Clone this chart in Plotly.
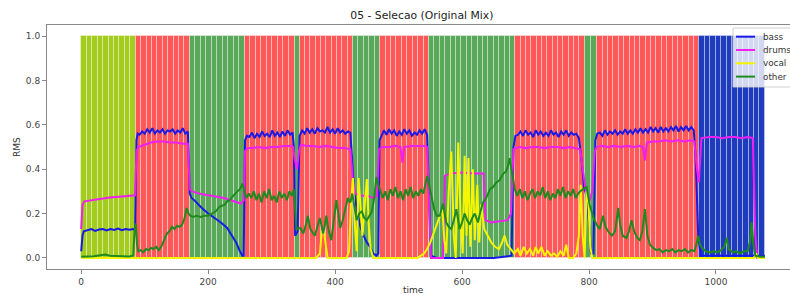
import numpy as np
import plotly.graph_objects as go

# ---------------- data ----------------
title_text = "05 - Selecao (Original Mix)"

# song sections (time units) and their kind
sec_start = [0, 86, 171, 258, 336, 344, 428, 471, 548, 684, 793, 813, 974]
sec_end = [86, 171, 258, 336, 344, 428, 471, 548, 684, 793, 813, 974, 1077]
sec_kind = ["intro", "drop", "break", "drop", "break", "drop", "break",
            "drop", "break", "drop", "break", "drop", "outro"]
beat_len = 8.6

bass_t = [0, 2, 4, 10, 16, 22, 28, 34, 40, 46, 52, 58, 64, 70, 76, 82, 85,
          87, 89, 92, 96, 100, 104, 108, 112, 116, 120, 124, 128, 132, 136, 140, 144, 148, 152, 156, 160, 164, 168,
          171, 174, 180, 190, 200, 210, 220, 230, 238, 244, 250, 254, 256,
          258, 261, 265, 269, 273, 277, 281, 285, 289, 293, 297, 301, 305, 309, 313, 317, 321, 325, 329, 333,
          335, 337, 341, 344,
          348, 352, 356, 360, 364, 368, 372, 376, 380, 384, 388, 392, 396, 400, 404, 408, 412, 416, 420, 424,
          427, 430, 435, 440, 445, 450, 455, 460, 465, 468,
          470, 473, 477, 481, 485, 489, 493, 497, 501, 505, 509, 513, 517, 521, 525, 529, 533, 537, 541, 545,
          548, 551, 560, 600, 650, 678,
          681, 684, 688, 692, 696, 700, 704, 708, 712, 716, 720, 724, 728, 732, 736, 740, 744, 748, 752, 756,
          760, 764, 768, 772, 776, 780, 784,
          788, 792, 796, 800, 803, 807,
          810, 813, 817, 821, 825, 829, 833, 837, 841, 845, 849, 853, 857, 861, 865, 869, 873, 877, 881, 885,
          889, 893, 897, 901, 905, 909, 913, 917, 921, 925, 929, 933, 937, 941, 945, 949, 953, 957, 961, 965,
          968, 972, 976, 1000, 1040, 1077]
bass_v = [0.03, 0.10, 0.12, 0.125, 0.13, 0.122, 0.128, 0.13, 0.124, 0.13, 0.126, 0.132, 0.125, 0.13, 0.127, 0.13, 0.125,
          0.53, 0.56, 0.555, 0.57, 0.56, 0.58, 0.565, 0.585, 0.56, 0.575, 0.565, 0.58, 0.56, 0.575, 0.57, 0.58, 0.56, 0.575, 0.565, 0.585, 0.56, 0.57,
          0.29, 0.27, 0.255, 0.225, 0.20, 0.18, 0.16, 0.135, 0.10, 0.07, 0.03, 0.01, 0.01,
          0.53, 0.55, 0.545, 0.565, 0.54, 0.56, 0.545, 0.57, 0.55, 0.56, 0.545, 0.575, 0.55, 0.565, 0.545, 0.57, 0.55, 0.575, 0.555, 0.565,
          0.50, 0.10, 0.12, 0.55,
          0.575, 0.56, 0.585, 0.565, 0.58, 0.56, 0.585, 0.57, 0.575, 0.565, 0.59, 0.565, 0.58, 0.56, 0.585, 0.565, 0.575, 0.56, 0.57, 0.565,
          0.45, 0.30, 0.20, 0.14, 0.10, 0.07, 0.05, 0.02, 0.01, 0.02,
          0.53, 0.55, 0.575, 0.555, 0.58, 0.56, 0.575, 0.55, 0.57, 0.555, 0.58, 0.56, 0.575, 0.55, 0.565, 0.555, 0.575, 0.56, 0.58, 0.555,
          0.30, 0.01, 0.0, 0.0, 0.0, 0.01,
          0.50, 0.55, 0.555, 0.57, 0.55, 0.575, 0.555, 0.565, 0.545, 0.575, 0.555, 0.57, 0.55, 0.565, 0.55, 0.575, 0.555, 0.565, 0.545, 0.57,
          0.555, 0.575, 0.55, 0.565, 0.555, 0.56, 0.54,
          0.45, 0.32, 0.28, 0.16, 0.02, 0.02,
          0.53, 0.56, 0.565, 0.55, 0.575, 0.555, 0.57, 0.56, 0.575, 0.555, 0.57, 0.56, 0.58, 0.56, 0.575, 0.56, 0.58, 0.565, 0.585, 0.565,
          0.58, 0.565, 0.59, 0.57, 0.585, 0.565, 0.59, 0.57, 0.585, 0.57, 0.59, 0.575, 0.595, 0.57, 0.59, 0.575, 0.595, 0.575, 0.59, 0.575,
          0.45, 0.10, 0.01, 0.01, 0.01, 0.01]

drums_t = [0, 2, 5, 15, 25, 35, 45, 55, 65, 75, 85,
           87, 90, 100, 110, 120, 130, 140, 150, 160, 168,
           171, 175, 185, 195, 205, 215, 225, 235, 245, 252, 256,
           258, 262, 270, 280, 290, 300, 310, 320, 330, 334,
           336, 340, 343,
           346, 355, 365, 375, 385, 395, 405, 415, 424,
           428, 432, 440, 450, 460, 466,
           469, 475, 485, 495, 503, 506, 509, 520, 530, 540, 545,
           548, 551, 560, 570, 573, 580, 600, 620, 634, 637, 645, 660, 672, 677,
           681, 690, 700, 710, 720, 730, 740, 750, 760, 770, 780, 786,
           790, 795, 800, 805, 809,
           812, 820, 830, 840, 850, 860, 870, 880, 885, 888, 891, 900, 910, 920, 930, 940, 950, 960, 966,
           970, 973, 977, 990, 1000, 1010, 1020, 1030, 1040, 1050, 1058,
           1062, 1065, 1077]
drums_v = [0.13, 0.24, 0.255, 0.26, 0.265, 0.27, 0.272, 0.275, 0.278, 0.28, 0.282,
           0.48, 0.50, 0.51, 0.52, 0.525, 0.525, 0.52, 0.52, 0.515, 0.515,
           0.31, 0.30, 0.29, 0.285, 0.28, 0.275, 0.27, 0.26, 0.25, 0.245, 0.26,
           0.48, 0.495, 0.495, 0.50, 0.495, 0.50, 0.50, 0.505, 0.505, 0.50,
           0.45, 0.40, 0.48,
           0.51, 0.505, 0.505, 0.50, 0.505, 0.50, 0.495, 0.495, 0.49,
           0.35, 0.29, 0.28, 0.28, 0.27, 0.28,
           0.49, 0.50, 0.50, 0.505, 0.50, 0.43, 0.50, 0.505, 0.505, 0.505, 0.50,
           0.25, 0.0, 0.0, 0.0, 0.37, 0.38, 0.385, 0.38, 0.38, 0.17, 0.16, 0.165, 0.17, 0.20,
           0.49, 0.50, 0.495, 0.50, 0.50, 0.495, 0.50, 0.50, 0.495, 0.50, 0.495, 0.49,
           0.40, 0.30, 0.25, 0.30, 0.48,
           0.50, 0.505, 0.50, 0.505, 0.50, 0.505, 0.50, 0.505, 0.50, 0.44, 0.52, 0.525, 0.525, 0.53, 0.525, 0.53, 0.525, 0.53, 0.525,
           0.40, 0.34, 0.54, 0.545, 0.545, 0.54, 0.545, 0.545, 0.54, 0.545, 0.54,
           0.10, 0.0, 0.0]

vocal_t = [0, 370, 376, 379, 382, 385, 388, 418, 422, 425, 428, 431, 434, 437, 440, 443, 446, 450, 453, 456, 460,
           530, 535, 540, 545, 550, 555, 560, 565, 569, 572, 575, 579, 583, 587, 590, 594, 598, 601, 604, 607,
           610, 613, 617, 620, 624, 627, 630, 635, 640, 646, 652, 658, 663, 667, 671, 676, 682, 688, 692, 697,
           702, 707, 712, 716, 720, 725, 730, 735, 740, 745, 750, 755, 760, 764, 768, 775, 780, 784, 787, 790,
           793, 796, 799, 802, 805, 1060, 1063, 1066, 1077]
vocal_v = [0.0, 0.0, 0.02, 0.12, 0.13, 0.05, 0.0, 0.0, 0.03, 0.25, 0.36, 0.15, 0.03, 0.36, 0.25, 0.10, 0.22, 0.355, 0.15, 0.04, 0.0,
           0.0, 0.01, 0.02, 0.04, 0.07, 0.11, 0.15, 0.19, 0.22, 0.08, 0.02, 0.30, 0.48, 0.10, 0.0, 0.52, 0.15, 0.02, 0.46, 0.10,
           0.45, 0.05, 0.40, 0.08, 0.33, 0.07, 0.24, 0.13, 0.10, 0.07, 0.05, 0.04, 0.07, 0.10, 0.06, 0.04, 0.02, 0.04, 0.01, 0.05,
           0.02, 0.04, 0.01, 0.05, 0.02, 0.05, 0.01, 0.03, 0.01, 0.02, 0.005, 0.03, 0.01, 0.06, 0.0, 0.0, 0.02, 0.10, 0.33, 0.10,
           0.0, 0.30, 0.25, 0.05, 0.0, 0.0, 0.02, 0.0, 0.0]

other_t = [0, 10, 20, 30, 38, 45, 55, 65, 75, 82, 84, 86, 88, 90, 94, 98, 102, 106, 110, 114, 118, 122, 126, 129,
           132, 135, 139, 143, 147, 151, 155, 159, 163, 166, 169, 172, 176, 182, 188, 194, 200, 206, 212, 218,
           222, 226, 230, 234, 238, 242, 246, 250, 254, 257, 260,
           264, 268, 272, 276, 280, 284, 288, 292, 296, 300, 304, 308, 312, 316, 320, 324, 328, 332, 335,
           339, 345, 350, 354, 357, 361, 365, 368, 372, 376, 379, 381, 384, 386, 390, 394, 398, 402, 405, 408,
           412, 415, 420, 424, 427, 431, 434, 438, 442, 446, 450, 454, 458, 462, 465, 468, 471,
           475, 479, 483, 487, 491, 495, 499, 503, 507, 511, 515, 519, 523, 527, 531, 535, 539, 542, 545, 548,
           552, 556, 560, 565, 570, 575, 579, 583, 587, 591, 596, 600, 604, 608, 612, 616, 620, 625, 629, 633,
           638, 644, 649, 654, 659, 665, 669, 672, 675, 679, 683,
           687, 691, 695, 699, 703, 707, 711, 715, 719, 723, 727, 731, 735, 739, 743, 747, 751, 755, 759, 763,
           767, 771, 775, 779, 783, 786, 791, 796, 801, 807, 812, 817, 822, 826, 830, 836, 841, 846, 849, 853,
           859, 863, 867, 871, 876, 880, 884, 888, 892, 896, 901, 906, 911, 916, 921, 926, 931, 936, 941, 946,
           951, 956, 961, 966, 969, 972, 975, 978, 984, 990, 996, 1002, 1008, 1013, 1017, 1020, 1026, 1032, 1038,
           1044, 1050, 1054, 1056, 1059, 1062, 1070, 1077]
other_v = [0.005, 0.006, 0.008, 0.012, 0.015, 0.01, 0.008, 0.007, 0.006, 0.01, 0.12, 0.155, 0.06, 0.03, 0.035, 0.025, 0.04, 0.035, 0.045, 0.04, 0.05, 0.035, 0.05, 0.07,
           0.09, 0.11, 0.12, 0.14, 0.13, 0.145, 0.14, 0.15, 0.18, 0.225, 0.20, 0.19, 0.185, 0.19, 0.185, 0.19, 0.19, 0.20, 0.21, 0.23,
           0.235, 0.24, 0.255, 0.26, 0.275, 0.29, 0.30, 0.31, 0.335, 0.30, 0.27,
           0.29, 0.27, 0.30, 0.26, 0.29, 0.25, 0.30, 0.27, 0.31, 0.26, 0.28, 0.25, 0.30, 0.27, 0.29, 0.26, 0.30, 0.28, 0.31,
           0.13, 0.135, 0.11, 0.15, 0.19, 0.13, 0.11, 0.10, 0.14, 0.18, 0.14, 0.11, 0.15, 0.19, 0.12, 0.08, 0.17, 0.26, 0.20, 0.135,
           0.17, 0.21, 0.27, 0.25, 0.29, 0.22, 0.17, 0.20, 0.21, 0.18, 0.17, 0.19, 0.21, 0.28, 0.365, 0.33, 0.30,
           0.27, 0.30, 0.26, 0.31, 0.28, 0.32, 0.27, 0.30, 0.26, 0.31, 0.28, 0.32, 0.27, 0.30, 0.28, 0.31, 0.29, 0.33, 0.37, 0.33,
           0.27, 0.22, 0.19, 0.19, 0.245, 0.16, 0.14, 0.13, 0.17, 0.22, 0.13, 0.16, 0.20, 0.17, 0.15, 0.18, 0.20, 0.16, 0.21, 0.25,
           0.27, 0.31, 0.32, 0.34, 0.35, 0.38, 0.39, 0.41, 0.45, 0.38, 0.31,
           0.28, 0.31, 0.27, 0.30, 0.26, 0.29, 0.31, 0.27, 0.30, 0.28, 0.32, 0.27, 0.30, 0.26, 0.29, 0.27, 0.31, 0.28, 0.32, 0.27,
           0.30, 0.28, 0.31, 0.27, 0.29, 0.30, 0.31, 0.32, 0.24, 0.18, 0.15, 0.13, 0.19, 0.14, 0.12, 0.10, 0.12, 0.225, 0.15, 0.10,
           0.09, 0.12, 0.17, 0.12, 0.09, 0.08, 0.12, 0.22, 0.10, 0.06, 0.045, 0.035, 0.04, 0.025, 0.035, 0.03, 0.04, 0.025, 0.035, 0.03,
           0.04, 0.025, 0.035, 0.03, 0.06, 0.10, 0.06, 0.045, 0.03, 0.025, 0.03, 0.025, 0.035, 0.05, 0.09, 0.04, 0.025, 0.03, 0.02,
           0.03, 0.03, 0.08, 0.16, 0.06, 0.01, 0.005, 0.005]

series_names = ["bass", "drums", "vocal", "other"]

# ---------------- styles ----------------
kind_color = {"intro": "#a3cc1f", "drop": "#ff5858", "break": "#5aa85a", "outro": "#1f3cbf"}
line_color = {"bass": "#1a1ae6", "drums": "#f01ef0", "vocal": "#f5f500", "other": "#1f8a1f"}
FONT = "DejaVu Sans"
W, H = 790, 295
ML, MT, MB = 47, 25, 26
PW, PH = W - ML, H - MT - MB


def px_x(p):  # pixel -> paper x
    return (p - ML) / PW


def px_y(p):  # pixel -> paper y
    return (H - MB - p) / PH


fig = go.Figure()

# background striped section bars
bx, bw, bc = [], [], []
for s, e, k in zip(sec_start, sec_end, sec_kind):
    n = max(1, int(round((e - s) / beat_len)))
    w = (e - s) / n
    for i in range(n):
        bx.append(s + w * (i + 0.5))
        bw.append(w)
        bc.append(kind_color[k])
fig.add_trace(go.Bar(x=bx, y=[1.0] * len(bx), width=bw, base=0,
                     marker=dict(color=bc, line=dict(color="rgba(255,255,255,0.35)", width=1)),
                     showlegend=False, hoverinfo="skip"))

data = {"bass": (bass_t, bass_v), "drums": (drums_t, drums_v),
        "vocal": (vocal_t, vocal_v), "other": (other_t, other_v)}
for name in series_names:
    t, v = data[name]
    fig.add_trace(go.Scatter(x=t, y=v, mode="lines", name=name, showlegend=False,
                             line=dict(color=line_color[name], width=2)))

# legend box (drawn like the matplotlib one, partly cut by the right edge)
shapes = [dict(type="rect", xref="paper", yref="paper", x0=px_x(733), x1=px_x(805),
               y0=px_y(87), y1=px_y(28), fillcolor="rgba(255,255,255,0.8)",
               line=dict(color="rgba(204,204,204,0.9)", width=1), layer="above")]
annotations = []
for i, name in enumerate(series_names):
    yy = px_y(36.7 + 13.3 * i)
    shapes.append(dict(type="line", xref="paper", yref="paper", x0=px_x(736), x1=px_x(755),
                       y0=yy, y1=yy, line=dict(color=line_color[name], width=2), layer="above"))
    annotations.append(dict(text=name, xref="paper", yref="paper", x=px_x(760.5), y=yy,
                            xanchor="left", yanchor="middle", showarrow=False,
                            font=dict(family=FONT, size=8.8, color="#333")))

annotations.append(dict(text="RMS", xref="paper", yref="paper", x=px_x(17), y=0.5,
                        textangle=-90, showarrow=False, xanchor="center", yanchor="middle",
                        font=dict(family=FONT, size=9, color="#333")))
annotations.append(dict(text="time", xref="paper", yref="paper", x=px_x(413), y=px_y(290),
                        showarrow=False, xanchor="center", yanchor="middle",
                        font=dict(family=FONT, size=9, color="#333")))

fig.update_layout(
    width=W, height=H,
    margin=dict(l=ML, r=0, t=MT, b=MB, autoexpand=False),
    paper_bgcolor="white", plot_bgcolor="white",
    font=dict(family=FONT, size=9, color="#333"),
    bargap=0,
    title=dict(text=title_text, x=0.534, xanchor="center", y=1 - 15 / H, yanchor="middle",
               font=dict(family=FONT, size=10.8, color="#222")),
    showlegend=False,
    shapes=shapes, annotations=annotations,
)
fig.update_xaxes(range=[-53.9, 1116.6], tickvals=[0, 200, 400, 600, 800, 1000],
                 showgrid=False, zeroline=False, showline=True, linecolor="#888", linewidth=1,
                 mirror=True, ticks="outside", ticklen=4, tickcolor="#888", automargin=False,
                 tickfont=dict(family=FONT, size=9, color="#444"))
fig.update_yaxes(range=[-0.05, 1.05], tickvals=[0, 0.2, 0.4, 0.6, 0.8, 1.0],
                 ticktext=["0.0", "0.2", "0.4", "0.6", "0.8", "1.0"],
                 showgrid=False, zeroline=False, showline=True, linecolor="#888", linewidth=1,
                 mirror=False, ticks="outside", ticklen=4, tickcolor="#888", automargin=False,
                 tickfont=dict(family=FONT, size=9, color="#444"))

fig.write_html("out.html", config={"displayModeBar": False, "staticPlot": False},
               post_script="document.body.style.margin='0px';")
